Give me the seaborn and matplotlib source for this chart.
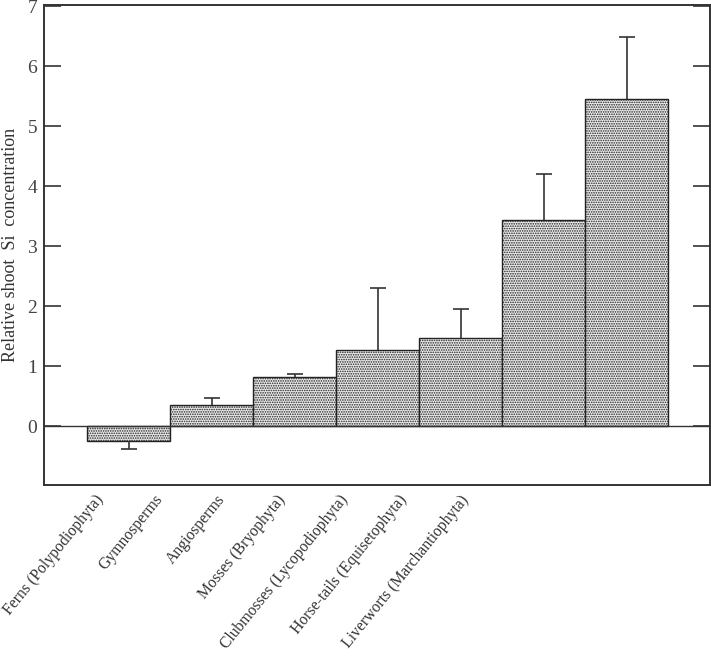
import matplotlib
matplotlib.use('Agg')
import matplotlib.pyplot as plt
import seaborn as sns

# Data
groups = ['Ferns (Polypodiophyta)', 'Gymnosperms', 'Angiosperms',
          'Mosses (Bryophyta)', 'Clubmosses (Lycopodiophyta)',
          'Horse-tails (Equisetophyta)', 'Liverworts (Marchantiophyta)']
si_conc = [-0.25, 0.35, 0.83, 1.28, 1.48, 3.44, 5.45]
err_size = [0.13, 0.13, 0.05, 1.02, 0.47, 0.76, 1.04]
y_ticks = [0, 1, 2, 3, 4, 5, 6, 7]

sns.set_style('white')
plt.rcParams['font.family'] = ['Liberation Serif', 'DejaVu Serif']
plt.rcParams['hatch.linewidth'] = 0.8
plt.rcParams['hatch.color'] = '#555555'

fig = plt.figure(figsize=(7.11, 6.6), dpi=100)
ax = fig.add_axes([0.062, 0.265, 0.936, 0.727])

sns.barplot(x=list(range(len(groups))), y=si_conc, width=1.0, color='#ececec',
            edgecolor='#222222', linewidth=1.0, saturation=1, ax=ax)
for p in ax.patches:
  p.set_hatch('.......')

# one-sided error bars (away from zero)
xs = list(range(len(groups)))
lower = [e if v < 0 else 0 for v, e in zip(si_conc, err_size)]
upper = [0 if v < 0 else e for v, e in zip(si_conc, err_size)]
_, caps, _ = ax.errorbar(xs, si_conc, yerr=[lower, upper], fmt='none',
                         ecolor='#333333', elinewidth=1.2, capsize=5.5,
                         capthick=1.2)
# drop the caps sitting on the bar ends
keep_lo = [i for i in xs if lower[i] > 0]
keep_hi = [i for i in xs if upper[i] > 0]
caps[0].set_data([xs[i] for i in keep_lo],
                 [si_conc[i] - lower[i] for i in keep_lo])
caps[1].set_data([xs[i] for i in keep_hi],
                 [si_conc[i] + upper[i] for i in keep_hi])

ax.axhline(0, color='#333333', lw=1.0)
ax.set_xlim(-1.02, 7.0)
ax.set_ylim(-0.98, 7.02)
ax.set_yticks(y_ticks)
ax.set_yticklabels([str(t) for t in y_ticks], fontsize=14, color='#444444')
ax.set_xticks([])
ax.set_xlabel('')
ax.set_ylabel('Relative shoot  Si  concentration', fontsize=13,
              color='#333333', labelpad=6)
ax.tick_params(axis='y', direction='in', length=12, width=1.2,
               color='#333333', left=True, right=True, pad=5)
for s in ax.spines.values():
  s.set_visible(True)
  s.set_color('#333333')
  s.set_linewidth(1.4)

# rotated group labels, evenly spaced below the axis
label_x = [101, 160, 222, 283, 345, 404, 466]
for px, name in zip(label_x, groups):
  fig.text(px / 711, 1 - 497 / 660, name, rotation=51, rotation_mode='anchor',
           ha='right', va='center', fontsize=11.3, color='#333333')

fig.savefig('out.png', dpi=100)
